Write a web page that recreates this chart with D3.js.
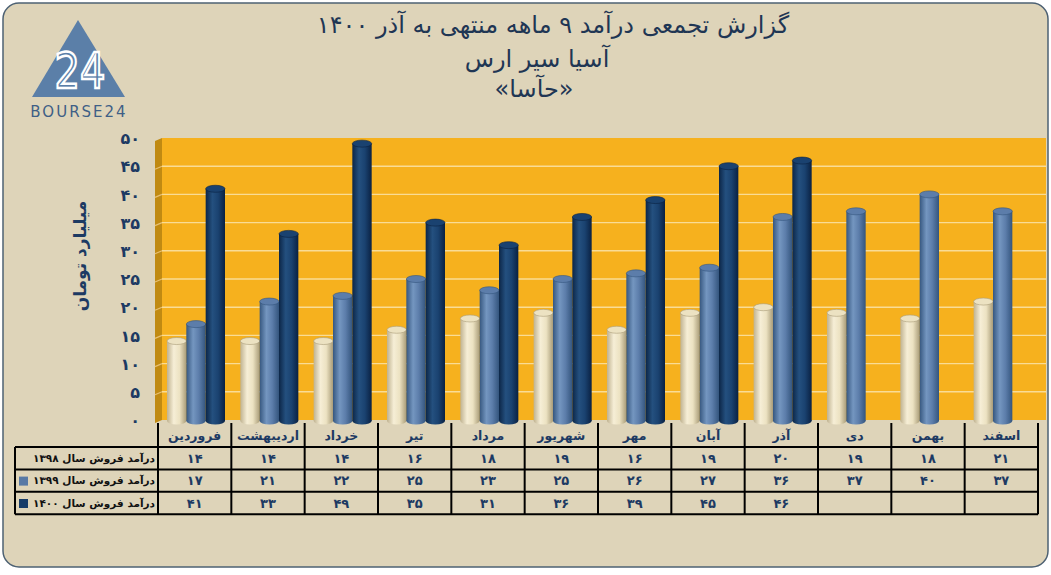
<!DOCTYPE html>
<html>
<head>
<meta charset="utf-8">
<script src="https://cdn.jsdelivr.net/npm/d3@7"></script>
<style>
  html, body { margin: 0; padding: 0; background: #ffffff; }
  svg text { font-family: "DejaVu Sans", sans-serif; }
</style>
</head>
<body>
<svg id="chart" width="1051" height="575"></svg>
<script>
// months (left to right as in the picture)
var months = ["فروردین", "اردیبهشت", "خرداد", "تیر", "مرداد", "شهریور", "مهر", "آبان", "آذر", "دی", "بهمن", "اسفند"];
var seriesNames = ["درآمد فروش سال ۱۳۹۸", "درآمد فروش سال ۱۳۹۹", "درآمد فروش سال ۱۴۰۰"];
var sales1398 = [14, 14, 14, 16, 18, 19, 16, 19, 20, 19, 18, 21];
var sales1399 = [17, 21, 22, 25, 23, 25, 26, 27, 36, 37, 40, 37];
var sales1400 = [41, 33, 49, 35, 31, 36, 39, 45, 46, null, null, null];
var yTicks = [0, 5, 10, 15, 20, 25, 30, 35, 40, 45, 50];
var titleLines = ["گزارش تجمعی درآمد ۹ ماهه منتهی به آذر ۱۴۰۰", "آسیا سیر ارس", "«حآسا»"];
var yTitle = "میلیارد تومان";

var allSeries = [sales1398, sales1399, sales1400];
var colors = ["#e9dfbf", "#5879a5", "#173c69"];
var ink = "#1d3a63";

// persian digits
function fa(n) {
  return String(n).replace(/\d/g, function(c) { return "۰۱۲۳۴۵۶۷۸۹"[+c]; });
}

var svg = d3.select("svg#chart");

// background card
svg.append("rect")
    .attr("x", 3).attr("y", 3)
    .attr("width", 1045).attr("height", 564)
    .attr("rx", 16)
    .attr("fill", "#ded4b9")
    .attr("stroke", "#4d6173")
    .attr("stroke-width", 1.5);

// gradients for the cylinders
var defs = svg.append("defs");
var shades = [
  ["#bfb290", "#f6eed6", "#ece2c2", "#a99c78"],
  ["#36577f", "#7496c0", "#5c7daa", "#34557d"],
  ["#0c2647", "#24507f", "#1a4270", "#0a2142"]
];
shades.forEach(function(s, i) {
  var g = defs.append("linearGradient").attr("id", "cyl" + i)
      .attr("x1", "0%").attr("x2", "100%").attr("y1", "0%").attr("y2", "0%");
  g.append("stop").attr("offset", "0%").attr("stop-color", s[0]);
  g.append("stop").attr("offset", "35%").attr("stop-color", s[1]);
  g.append("stop").attr("offset", "65%").attr("stop-color", s[2]);
  g.append("stop").attr("offset", "100%").attr("stop-color", s[3]);
});

// scales
var x = d3.scaleBand().domain(months).range([158, 1038]).padding(0);
var x1 = d3.scaleBand().domain([0, 1, 2]).range([9, 67]).padding(0);
var y = d3.scaleLinear().domain([0, 50]).range([420, 138]);

// plot back wall + side wall
svg.append("rect")
    .attr("x", 162).attr("y", y(50))
    .attr("width", 1046 - 162).attr("height", y(0) - y(50))
    .attr("fill", "#f6b11e");
svg.append("path")
    .attr("d", "M155," + (y(50) + 3) + "L162," + y(50) + "L162," + y(0) + "L155," + (y(0) + 3) + "Z")
    .attr("fill", "#c08a12");

// gridlines
var grid = svg.append("g").attr("class", "grid");
grid.selectAll("line.back")
    .data(yTicks.filter(function(d) { return d > 0 && d < 50; }))
    .enter().append("line")
    .attr("x1", 162).attr("x2", 1046)
    .attr("y1", function(d) { return y(d); })
    .attr("y2", function(d) { return y(d); })
    .attr("stroke", "#f9dc95").attr("stroke-width", 1.4);
grid.selectAll("line.side")
    .data(yTicks.filter(function(d) { return d > 0 && d < 50; }))
    .enter().append("line")
    .attr("x1", 155).attr("x2", 162)
    .attr("y1", function(d) { return y(d) + 3; })
    .attr("y2", function(d) { return y(d); })
    .attr("stroke", "#e8c073").attr("stroke-width", 1.2);

// y axis
var yAxis = d3.axisLeft(y).tickValues(yTicks).tickSize(0).tickFormat(fa);
var ya = svg.append("g").attr("transform", "translate(140,0)").call(yAxis);
ya.select(".domain").remove();
ya.selectAll("text")
    .attr("x", 0).attr("dy", "0.35em")
    .attr("fill", ink)
    .style("font-size", "16px").style("font-weight", "bold");

svg.append("text")
    .attr("transform", "translate(86,256) rotate(-90)")
    .attr("text-anchor", "middle")
    .attr("fill", ink)
    .style("font-size", "17px").style("font-weight", "bold")
    .text(yTitle);

// cylinders
var bars = svg.append("g").attr("class", "bars");
allSeries.forEach(function(vals, si) {
  var w = x1.bandwidth();
  var grp = bars.append("g");
  var data = months.map(function(m, i) { return { m: m, v: vals[i] }; })
      .filter(function(d) { return d.v != null; });
  var cyl = grp.selectAll("g").data(data).enter().append("g");
  cyl.append("ellipse")
      .attr("cx", function(d) { return x(d.m) + x1(si) + w / 2; })
      .attr("cy", y(0) + 1)
      .attr("rx", w / 2).attr("ry", 3.5)
      .attr("fill", "url(#cyl" + si + ")");
  cyl.append("rect")
      .attr("x", function(d) { return x(d.m) + x1(si); })
      .attr("y", function(d) { return y(d.v); })
      .attr("width", w)
      .attr("height", function(d) { return y(0) + 1 - y(d.v); })
      .attr("fill", "url(#cyl" + si + ")");
  cyl.append("ellipse")
      .attr("cx", function(d) { return x(d.m) + x1(si) + w / 2; })
      .attr("cy", function(d) { return y(d.v); })
      .attr("rx", w / 2).attr("ry", 3.5)
      .attr("fill", shades[si][2])
      .attr("stroke", shades[si][3]).attr("stroke-width", 0.6);
});

// data table
var rowTop = 447, rowH = 22.4, tableLeft = 15, tableRight = 1038;
var table = svg.append("g").attr("class", "table");

// category separators (incl. header row)
table.selectAll("line.col")
    .data(months.concat(["end"]))
    .enter().append("line")
    .attr("x1", function(d, i) { return 158 + i * x.bandwidth(); })
    .attr("x2", function(d, i) { return 158 + i * x.bandwidth(); })
    .attr("y1", 423).attr("y2", rowTop + 3 * rowH)
    .attr("stroke", "#000").attr("stroke-width", 2);

// rows
[0, 1, 2, 3].forEach(function(r) {
  table.append("line")
      .attr("x1", tableLeft).attr("x2", tableRight)
      .attr("y1", rowTop + r * rowH).attr("y2", rowTop + r * rowH)
      .attr("stroke", "#000").attr("stroke-width", 2);
});
table.append("line")
    .attr("x1", tableLeft).attr("x2", tableLeft)
    .attr("y1", rowTop).attr("y2", rowTop + 3 * rowH)
    .attr("stroke", "#000").attr("stroke-width", 2);

// month headers
table.selectAll("text.month")
    .data(months)
    .enter().append("text")
    .attr("x", function(d) { return x(d) + x.bandwidth() / 2; })
    .attr("y", 436)
    .attr("dy", "0.35em")
    .attr("text-anchor", "middle")
    .attr("fill", ink)
    .style("font-size", "12.5px").style("font-weight", "bold")
    .text(function(d) { return d; });

// series labels + legend keys
seriesNames.forEach(function(name, si) {
  var cy = rowTop + si * rowH + rowH / 2;
  table.append("text")
      .attr("x", 155).attr("y", cy).attr("dy", "0.35em")
      .attr("text-anchor", "end")
      .attr("fill", "#111")
      .style("font-size", "10.5px").style("font-weight", "bold")
      .text(name);
  if (si > 0) {
    table.append("rect")
        .attr("x", 19).attr("y", cy - 4)
        .attr("width", 9).attr("height", 9)
        .attr("fill", colors[si]);
  }
  table.selectAll("text.v" + si)
      .data(months.map(function(m, i) { return { m: m, v: allSeries[si][i] }; })
        .filter(function(d) { return d.v != null; }))
      .enter().append("text")
      .attr("x", function(d) { return x(d.m) + x.bandwidth() / 2; })
      .attr("y", cy).attr("dy", "0.35em")
      .attr("text-anchor", "middle")
      .attr("fill", ink)
      .style("font-size", "13px").style("font-weight", "bold")
      .text(function(d) { return fa(d.v); });
});

// titles
var tY = [33, 67, 97];
var tX = [553, 537, 534];
titleLines.forEach(function(t, i) {
  svg.append("text")
      .attr("x", tX[i]).attr("y", tY[i])
      .attr("text-anchor", "middle")
      .attr("direction", "rtl")
      .attr("fill", "#1f3654")
      .style("font-size", "24px")
      .text(t);
});

// logo
var logo = svg.append("g").attr("class", "logo");
logo.append("path")
    .attr("d", "M78,20L125,97L32,97Z")
    .attr("fill", "#5b7fa8");
logo.append("text")
    .attr("x", 80).attr("y", 88)
    .attr("text-anchor", "middle")
    .attr("fill", "none")
    .attr("stroke", "#ffffff").attr("stroke-width", 2.5)
    .attr("transform", "translate(80,0) scale(0.8,1) translate(-80,0)")
    .style("font-size", "50px")
    .text("24");
logo.append("text")
    .attr("x", 79).attr("y", 117)
    .attr("text-anchor", "middle")
    .attr("fill", "#3f5f86")
    .style("font-size", "15px")
    .style("letter-spacing", "2px")
    .text("BOURSE24");
</script>
</body>
</html>
